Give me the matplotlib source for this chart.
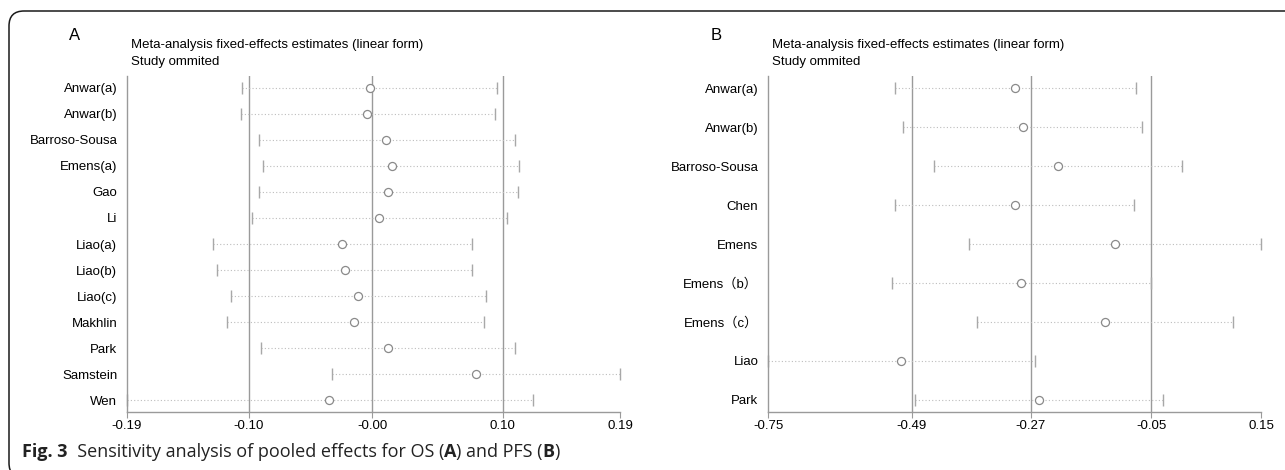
import matplotlib
matplotlib.use("Agg")
import numpy as np
import matplotlib.pyplot as plt
from matplotlib.patches import FancyBboxPatch
from matplotlib.transforms import IdentityTransform

plt.rcParams['font.family'] = ['Liberation Sans', 'Noto Sans CJK SC', 'DejaVu Sans']

# Panel A: OS, study omitted
names_a = ["Anwar(a)", "Anwar(b)", "Barroso-Sousa", "Emens(a)", "Gao", "Li",
           "Liao(a)", "Liao(b)", "Liao(c)", "Makhlin", "Park", "Samstein", "Wen"]
est_a = [-0.003, -0.005, 0.010, 0.014, 0.011, 0.004, -0.024, -0.022, -0.012,
         -0.015, 0.011, 0.079, -0.034]
lo_a = [-0.101, -0.102, -0.088, -0.085, -0.088, -0.094, -0.124, -0.121, -0.110,
        -0.113, -0.087, -0.032, -0.19]
hi_a = [0.095, 0.094, 0.109, 0.112, 0.111, 0.103, 0.076, 0.076, 0.087,
        0.085, 0.109, 0.19, 0.123]
ticks_a = [-0.19, -0.096, -0.001, 0.0995, 0.19]
ticklabels_a = ["-0.19", "-0.10", "-0.00", "0.10", "0.19"]

# Panel B: PFS, study omitted
names_b = ["Anwar(a)", "Anwar(b)", "Barroso-Sousa", "Chen", "Emens",
           "Emens（b）", "Emens（c）", "Liao", "Park"]
est_b = [-0.300, -0.285, -0.221, -0.300, -0.116, -0.288, -0.135, -0.507, -0.255]
lo_b = [-0.519, -0.504, -0.447, -0.518, -0.383, -0.523, -0.368, -0.75, -0.481]
hi_b = [-0.079, -0.067, 0.006, -0.081, 0.15, -0.05, 0.099, -0.263, -0.029]
ticks_b = [-0.75, -0.4875, -0.27, -0.05, 0.15]
ticklabels_b = ["-0.75", "-0.49", "-0.27", "-0.05", "0.15"]

W, H = 1285, 470
fig = plt.figure(figsize=(W / 100, H / 100), dpi=100)

grey = '#9a9a9a'


def panel(left_px, names, est, lo, hi, ticks, ticklabels, pad, letter):
    ax = fig.add_axes([left_px / W, 1 - 412 / H, 493 / W, 336 / H])
    y = np.arange(len(names))
    for t in ticks[1:4]:
        ax.axvline(t, color=grey, lw=1, zorder=0)
    for yi, l, h in zip(y, lo, hi):
        ax.plot([l, h], [yi, yi], color='#bdbdbd', lw=0.8,
                linestyle=(0, (1, 2)), zorder=1)
    ax.plot(lo, y, '|', color='#a8a8a8', ms=9, mew=1, zorder=2, clip_on=False)
    ax.plot(hi, y, '|', color='#a8a8a8', ms=9, mew=1, zorder=2, clip_on=False)
    ax.plot(est, y, 'o', mfc='white', mec='#8a8a8a', ms=5.8, mew=0.9,
            zorder=3, clip_on=False)
    ax.set_xlim(ticks[0], ticks[-1])
    ax.set_ylim(len(names) - 1 + pad, -pad)
    ax.set_xticks(ticks)
    ax.set_xticklabels(ticklabels)
    ax.set_yticks(y)
    ax.set_yticklabels(names)
    for s in ['top', 'right']:
        ax.spines[s].set_visible(False)
    for s in ['left', 'bottom']:
        ax.spines[s].set_color(grey)
        ax.spines[s].set_linewidth(1)
    ax.tick_params(axis='x', direction='out', length=4, color=grey,
                   labelsize=9.5, pad=2)
    ax.tick_params(axis='y', length=0, labelsize=9.5, pad=7)
    fig.text((left_px + 4) / W, 1 - 45 / H,
             "Meta-analysis fixed-effects estimates (linear form)",
             va='center', fontsize=9.5)
    fig.text((left_px + 4) / W, 1 - 62 / H, "Study ommited",
             va='center', fontsize=9.5)
    fig.text((left_px - 52) / W, 1 - 35 / H, letter, ha='center',
             va='center', fontsize=12)
    return ax


panel(127, names_a, est_a, lo_a, hi_a, ticks_a, ticklabels_a, 0.46, "A")
panel(768, names_b, est_b, lo_b, hi_b, ticks_b, ticklabels_b, 0.31, "B")

# figure frame (top and left edges, rounded corners)
frame = FancyBboxPatch((9, -8), 1320, 467, boxstyle='round,pad=0,rounding_size=15',
                       transform=IdentityTransform(), fill=False,
                       ec='#1a1a1a', lw=1.1, clip_on=False)
fig.add_artist(frame)

# caption with mixed weights
pieces = [("Fig. 3", 'bold'), ("  Sensitivity analysis of pooled effects for OS (", 'normal'),
          ("A", 'bold'), (") and PFS (", 'normal'), ("B", 'bold'), (")", 'normal')]
renderer = fig.canvas.get_renderer()
x = 22
for s, w in pieces:
    t = fig.text(x / W, 13 / H, s, fontsize=13, fontweight=w,
                 family='Open Sans', va='baseline', color='#222222')
    x += t.get_window_extent(renderer).width

fig.savefig("out.png", dpi=100)
